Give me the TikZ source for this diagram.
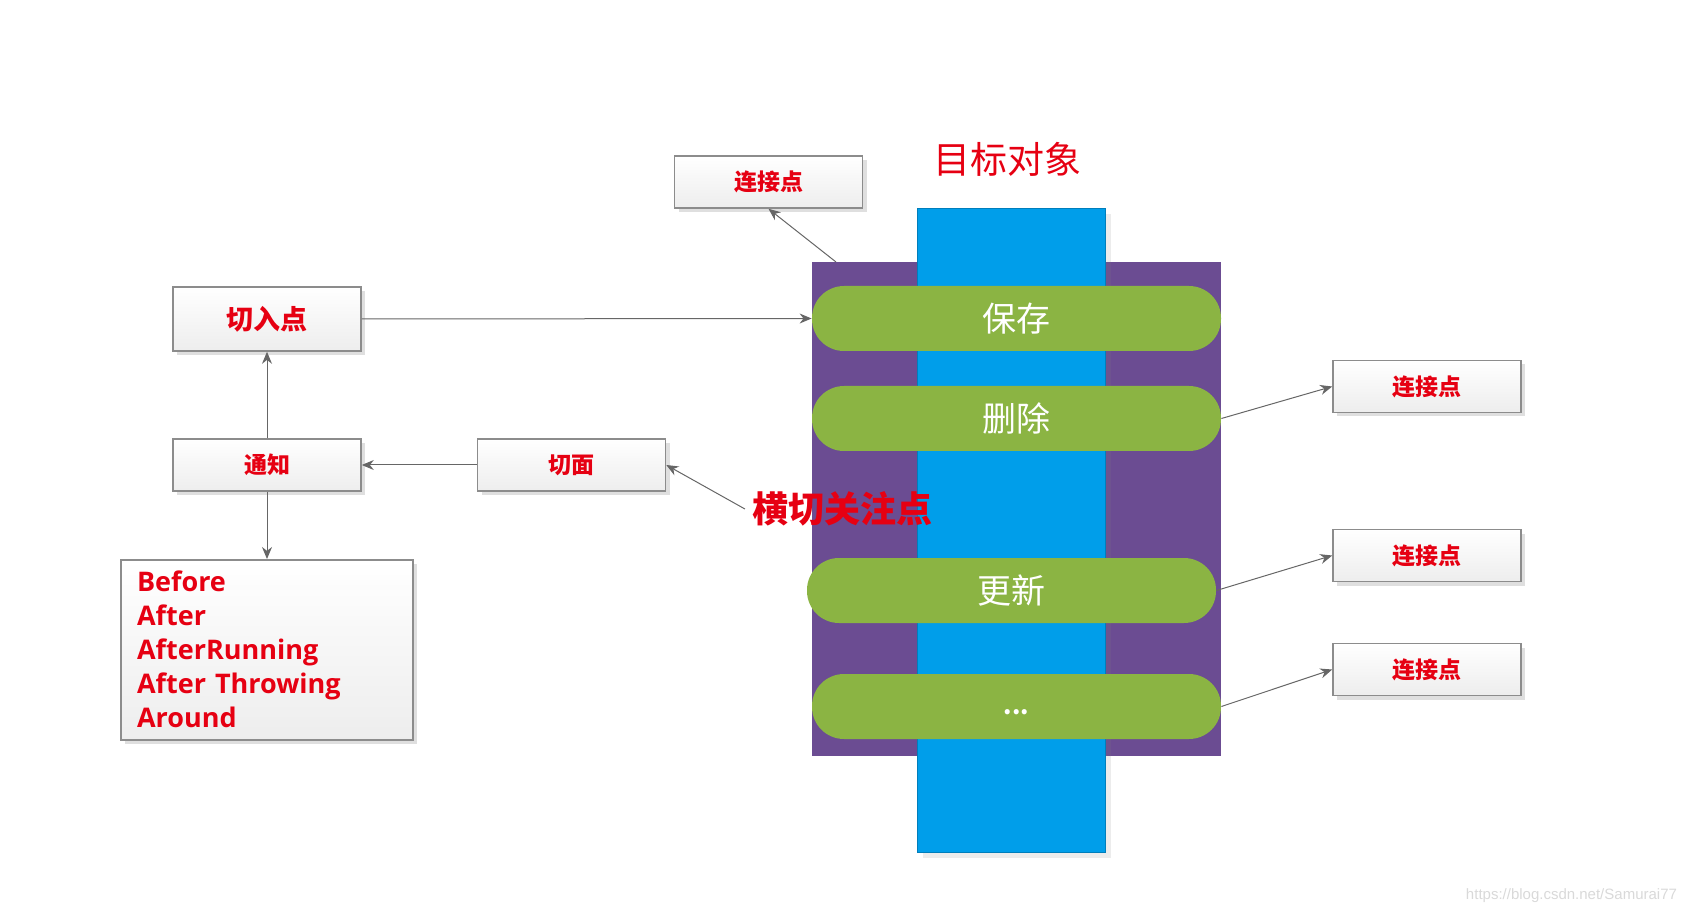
\documentclass[tikz,border=0pt]{standalone}
\usepackage{fontspec}
\setmainfont{Open Sans}
\newfontfamily\cjk{Noto Sans CJK SC}
\newfontfamily\wmfont{Liberation Sans}
\usepackage{tikz}
\usetikzlibrary{positioning,arrows.meta,shadows}

\definecolor{aopred}{RGB}{230,0,18}
\definecolor{aopblue}{RGB}{0,158,234}
\definecolor{aoppurple}{RGB}{107,76,146}
\definecolor{aopgreen}{RGB}{139,180,67}
\definecolor{aopgray}{RGB}{140,140,140}

\begin{document}
\begin{tikzpicture}[x=0.5pt,y=-0.5pt,
	box/.style={draw=aopgray, line width=0.8pt, top color=white, bottom color=gray!14,
		drop shadow={shadow xshift=2pt, shadow yshift=-2pt, opacity=0.25},
		minimum width=94pt, minimum height=26pt, font=\cjk\bfseries\fontsize{11.5}{13}\selectfont, text=aopred},
	pill/.style={fill=aopgreen, rounded corners=16pt, minimum width=204.5pt, minimum height=32.5pt,
		text=white, font=\cjk\fontsize{17}{19}\selectfont},
	link/.style={draw=black!60, line width=0.5pt, -{Stealth[length=6pt,width=5pt]}}]
	\useasboundingbox (0,0) rectangle (1692,914);
	
	% target object
	\node[fill=aoppurple, minimum width=204.5pt, minimum height=247pt, inner sep=0pt] (cut) at (1016.5,509) {};
	\node[fill=aopblue, draw=aopblue!80!black, line width=0.4pt, minimum width=94pt, minimum height=322pt, inner sep=0pt,
		drop shadow={shadow xshift=3pt, shadow yshift=-3pt, opacity=0.15}] (obj) at (1011,530) {};
	\node[text=aopred, font=\cjk\fontsize{18.5}{21}\selectfont] (title) at (1007,159) {目标对象};
	
	\node[pill] (save) at (1016.5,318.5) {保存};
	\node[pill] (del) at (1016.5,418.5) {删除};
	\node[pill] (upd) at (1011.5,590.5) {更新};
	\node[pill, font=\cjk\bfseries\fontsize{12}{14}\selectfont] (more) at (1016.5,706.5) {\raisebox{-1.2ex}{...}};
	
	\node[text=aopred, font=\cjk\bfseries\fontsize{18}{21}\selectfont] (cross) at (842,509) {横切关注点};
	
	% left side
	\node[box, minimum height=32pt, font=\cjk\bfseries\fontsize{13.5}{15}\selectfont] (pc) at (267,319) {切入点};
	\node[box] (adv) at (267,465) {通知};
	\node[box] (asp) at (571.5,465) {切面};
	\node[box, minimum width=146pt, minimum height=90pt, text width=130pt, inner xsep=8pt, align=left, anchor=north,
		font=\bfseries\fontsize{13.5}{17}\selectfont] (kinds) at (267,559) {Before\\After\\AfterRunning\\After Throwing\\Around};
	
	% join points
	\node[box] (jp) at (768.5,182) {连接点};
	\node[box] (jpa) at (1427,386.5) {连接点};
	\node[box] (jpb) at (1427,555.5) {连接点};
	\node[box] (jpc) at (1427,669.5) {连接点};
	\coordinate (jpfoot) at (836,262);
	
	\draw[link] (pc.east) -- (save.west);
	\draw[link] (adv.north) -- (pc.south);
	\draw[link] (asp.west) -- (adv.east);
	\draw[link] (adv.south) -- (kinds.north);
	\draw[link] (cross.west) -- (asp.east);
	\draw[link] (jpfoot) -- (jp.south);
	\draw[link] (del.east) -- (jpa.west);
	\draw[link] (upd.east) -- (jpb.west);
	\draw[link] (more.east) -- (jpc.west);
	
	\node[text=gray!30, font=\wmfont\fontsize{7.5}{9}\selectfont, anchor=east] (wm) at (1684,896) {https://blog.csdn.net/Samurai77};
\end{tikzpicture}
\end{document}
